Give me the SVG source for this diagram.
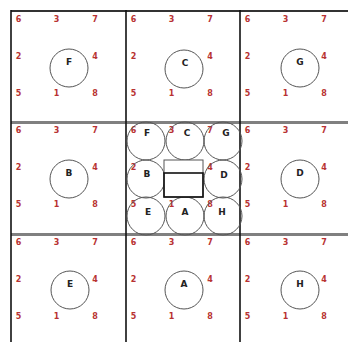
<svg xmlns="http://www.w3.org/2000/svg" width="348" height="342" viewBox="0 0 348 342">
<style>
.n{font-family:"DejaVu Sans",sans-serif;font-size:8px;font-weight:bold;fill:#b83232;text-anchor:middle}
.l{font-family:"DejaVu Sans",sans-serif;font-size:9px;font-weight:bold;fill:#222;text-anchor:middle}
.c{fill:none;stroke:#555;stroke-width:1}
.v{stroke:#111;stroke-width:1.6}
.h{stroke:#808080;stroke-width:3}
</style>
<defs>
<g id="nums">
<text class="n" x="7.5" y="10.5">6</text><text class="n" x="45.5" y="10.5">3</text><text class="n" x="84" y="10.5">7</text>
<text class="n" x="7.5" y="47.5">2</text><text class="n" x="84" y="47.5">4</text>
<text class="n" x="7.5" y="84.5">5</text><text class="n" x="45.5" y="84.5">1</text><text class="n" x="84" y="84.5">8</text>
</g>
</defs>
<g id="numbers">
<use href="#nums" x="11" y="11"/><use href="#nums" x="126" y="11"/><use href="#nums" x="240" y="11"/>
<use href="#nums" x="11" y="122"/><use href="#nums" x="126" y="122"/><use href="#nums" x="240" y="122"/>
<use href="#nums" x="11" y="234"/><use href="#nums" x="126" y="234"/><use href="#nums" x="240" y="234"/>
</g>
<g id="connectors">
<line x1="11" y1="11" x2="348" y2="11" stroke="#333" stroke-width="2"/>
<line class="h" x1="11" y1="122.5" x2="348" y2="122.5"/>
<line class="h" x1="11" y1="234.5" x2="348" y2="234.5"/>
<line class="v" x1="11" y1="10" x2="11" y2="342"/>
<line class="v" x1="126" y1="10" x2="126" y2="342"/>
<line class="v" x1="240" y1="10" x2="240" y2="342"/>
</g>
<g id="node-F"><circle class="c" cx="69" cy="68" r="19"/><text class="l" x="69" y="65">F</text></g>
<g id="node-C"><circle class="c" cx="184" cy="69" r="19"/><text class="l" x="185" y="66">C</text></g>
<g id="node-G"><circle class="c" cx="300" cy="68" r="19"/><text class="l" x="300" y="65">G</text></g>
<g id="node-B"><circle class="c" cx="69" cy="179" r="19"/><text class="l" x="69" y="176">B</text></g>
<g id="node-D"><circle class="c" cx="300" cy="179" r="19"/><text class="l" x="300" y="176">D</text></g>
<g id="node-E"><circle class="c" cx="70" cy="290" r="19"/><text class="l" x="70" y="287">E</text></g>
<g id="node-A"><circle class="c" cx="184" cy="290" r="19"/><text class="l" x="184" y="287">A</text></g>
<g id="node-H"><circle class="c" cx="300" cy="290" r="19"/><text class="l" x="300" y="287">H</text></g>
<g id="center">
<g id="c-F"><circle class="c" cx="146" cy="141" r="19"/><text class="l" x="147" y="136" font-size="10">F</text></g>
<g id="c-C"><circle class="c" cx="185" cy="141" r="19"/><text class="l" x="187" y="136" font-size="10">C</text></g>
<g id="c-G"><circle class="c" cx="223" cy="141" r="19"/><text class="l" x="226" y="136" font-size="10">G</text></g>
<g id="c-B"><circle class="c" cx="146" cy="179" r="19"/><text class="l" x="147" y="177" font-size="10">B</text></g>
<g id="c-D"><circle class="c" cx="223" cy="179" r="19"/><text class="l" x="224" y="178" font-size="10">D</text></g>
<g id="c-E"><circle class="c" cx="146" cy="216" r="19"/><text class="l" x="148" y="215" font-size="10">E</text></g>
<g id="c-A"><circle class="c" cx="185" cy="216" r="19"/><text class="l" x="185" y="215" font-size="10">A</text></g>
<g id="c-H"><circle class="c" cx="223" cy="216" r="19"/><text class="l" x="222" y="215" font-size="10">H</text></g>
<rect x="164" y="160" width="39" height="37" fill="#fff" stroke="#555" stroke-width="1"/>
<rect x="164" y="173" width="39" height="24" fill="none" stroke="#111" stroke-width="1.6"/>
</g>
</svg>
